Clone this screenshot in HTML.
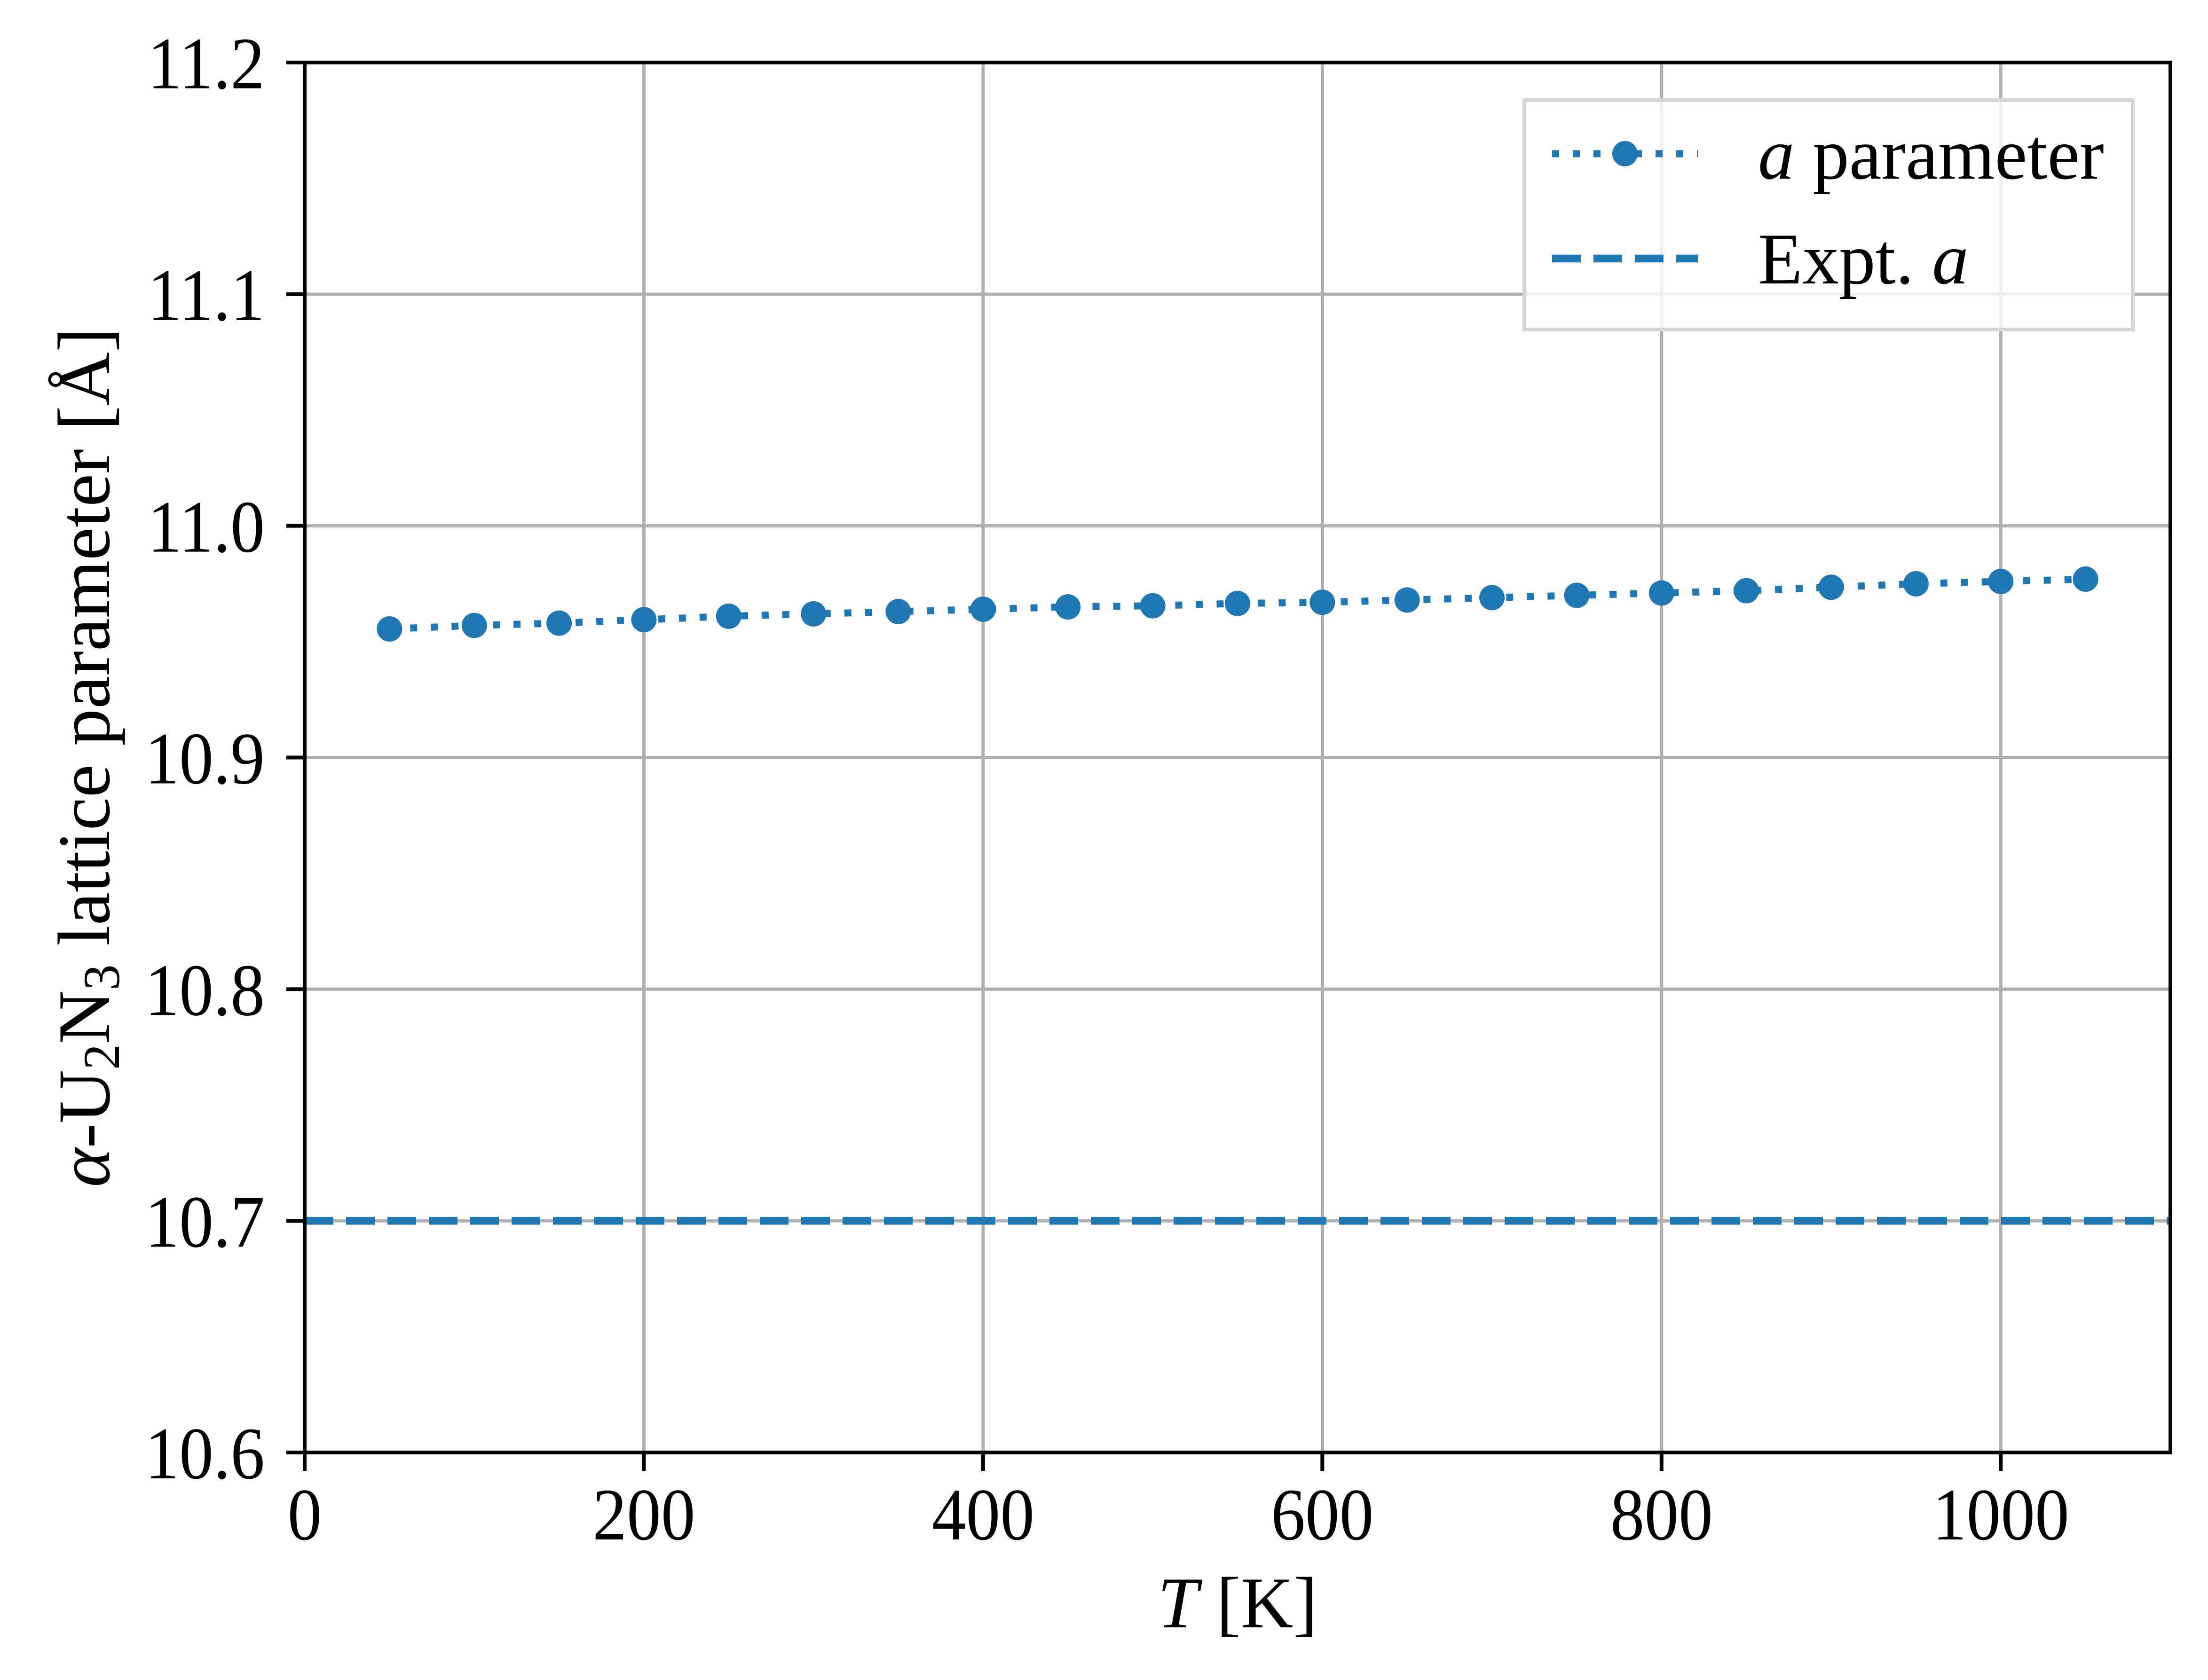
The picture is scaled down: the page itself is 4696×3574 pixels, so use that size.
<!DOCTYPE html>
<html><head><meta charset="utf-8"><style>
html,body{margin:0;padding:0;background:#fff;}
svg{display:block;}
text{font-family:"Liberation Serif",serif;fill:#000;}
</style></head><body>
<svg id="chart" width="4696" height="3574" viewBox="0 0 4696 3574" xmlns="http://www.w3.org/2000/svg">
<rect width="4696" height="3574" fill="#fff"/>
<g id="grid"></g>
<g id="series"></g>
<g id="axes"></g>
<text x="2632" y="3462" font-size="155" text-anchor="middle"><tspan font-style="italic">T</tspan> [K]</text>
<text transform="translate(196,1611) rotate(-90)" font-size="158" text-anchor="middle" dominant-baseline="middle"><tspan font-style="italic">α</tspan>-U<tspan font-size="110" dy="32">2</tspan><tspan dy="-32">N</tspan><tspan font-size="110" dy="32">3</tspan><tspan dy="-32"> lattice parameter [Å]</tspan></text>
<g>
<rect x="3242" y="213" width="1294" height="488" fill="#fff" fill-opacity="0.8" stroke="#d5d5d5" stroke-width="8"/>
<g>
<line x1="3301" y1="327" x2="3611" y2="327" stroke="#1f77b4" stroke-width="15" stroke-dasharray="15 29"/>
<circle cx="3456" cy="327" r="27" fill="#1f77b4"/>
<text x="3739" y="380" font-size="155"><tspan font-style="italic">a</tspan> parameter</text>
</g>
<g>
<line x1="3301" y1="550" x2="3611" y2="550" stroke="#1f77b4" stroke-width="16.5" stroke-dasharray="61 27"/>
<text x="3739" y="603" font-size="155">Expt. <tspan font-style="italic">a</tspan></text>
</g>
</g>
</svg>
<script>
const temps=[50,100,150,200,250,300,350,400,450,500,550,600,650,700,750,800,850,900,950,1000,1050];
const aParam=[10.9555,10.957,10.958,10.9595,10.961,10.962,10.963,10.964,10.965,10.9655,10.9665,10.967,10.968,10.969,10.970,10.971,10.972,10.9735,10.975,10.976,10.977];
const exptA=[10.7];
const xTicks=[0,200,400,600,800,1000];
const yTicks=[10.6,10.7,10.8,10.9,11.0,11.1,11.2];
const yTickLabels=["10.6","10.7","10.8","10.9","11.0","11.1","11.2"];
const X0=648,X1=4616,Y0=3090,Y1=133,XMIN=0,XMAX=1100,YMIN=10.6,YMAX=11.2;
const NS="http://www.w3.org/2000/svg";
function sx(v){return X0+(v-XMIN)/(XMAX-XMIN)*(X1-X0);}
function sy(v){return Y0-(v-YMIN)/(YMAX-YMIN)*(Y0-Y1);}
function mk(tag,attrs,parent){const e=document.createElementNS(NS,tag);for(const k in attrs)e.setAttribute(k,attrs[k]);parent.appendChild(e);return e;}
const grid=document.getElementById('grid'),series=document.getElementById('series'),axes=document.getElementById('axes');
xTicks.forEach(t=>{
 const g=mk('line',{x1:sx(t),x2:sx(t),y1:Y0,y2:Y1,stroke:'#b0b0b0','stroke-width':7},grid);
 
 
 const tk=mk('line',{x1:sx(t),x2:sx(t),y1:Y0,y2:Y0+39,stroke:'#000','stroke-width':8},axes);
 
 
 const lb=mk('text',{transform:'translate('+sx(t)+',3275) scale(0.97,1.05)','font-size':150,'text-anchor':'middle'},axes);
 lb.textContent=String(t);
 
 
});
yTicks.forEach((t,i)=>{
 const g=mk('line',{x1:X0,x2:X1,y1:sy(t),y2:sy(t),stroke:'#b0b0b0','stroke-width':7},grid);
 
 
 const tk=mk('line',{x1:X0-39,x2:X0,y1:sy(t),y2:sy(t),stroke:'#000','stroke-width':8},axes);
 
 
 const lb=mk('text',{transform:'translate(563,'+(sy(t)+55)+') scale(0.97,1.05)','font-size':150,'text-anchor':'end'},axes);
 lb.textContent=yTickLabels[i];
 
 
});
const ex=mk('line',{x1:X0,x2:X1,y1:sy(exptA[0]),y2:sy(exptA[0]),stroke:'#1f77b4','stroke-width':16.5,'stroke-dasharray':'61 27'},series);


const pl=mk('polyline',{points:temps.map((t,i)=>sx(t)+','+sy(aParam[i])).join(' '),fill:'none',stroke:'#1f77b4','stroke-width':15,'stroke-dasharray':'15 29'},series);


temps.forEach((t,i)=>{
 const c=mk('circle',{cx:sx(t),cy:sy(aParam[i]),r:27,fill:'#1f77b4'},series);
 
 
});
const fr=mk('rect',{x:X0,y:Y1,width:X1-X0,height:Y0-Y1,fill:'none',stroke:'#000','stroke-width':8},axes);


</script>
</body></html>
